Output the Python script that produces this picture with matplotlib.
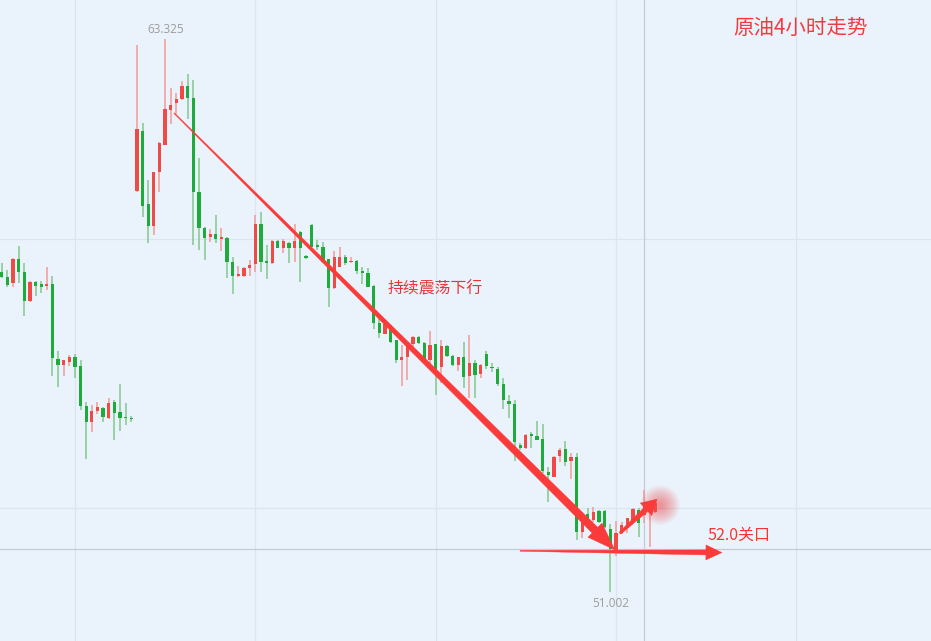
import numpy as np
import matplotlib
matplotlib.use("Agg")
import matplotlib.pyplot as plt
from matplotlib.patches import Polygon, Circle
from matplotlib.transforms import IdentityTransform

plt.rcParams['font.family'] = ['Noto Sans CJK SC', 'DejaVu Sans']

# ---- data (4-hour crude oil candles) ----
opens = [58.14, 58.03, 57.88, 58.41, 58.14, 57.48, 57.91, 57.86, 57.82, 57.86,
         56.19, 56.06, 56.12, 56.23, 56.04, 55.15, 54.78, 55.03, 55.11, 54.87,
         55.24, 55.02, 54.90, 54.88, 59.93, 61.27, 59.64, 59.16, 60.35, 60.97,
         61.74, 61.90, 61.98, 62.28, 62.01, 59.92, 59.12, 58.92, 58.97, 58.87,
         58.89, 58.36, 58.04, 58.04, 58.23, 58.30, 59.20, 58.36, 58.32, 58.82,
         58.67, 58.78, 58.67, 59.03, 58.47, 59.18, 58.72, 58.69, 58.42, 57.77,
         58.25, 58.46, 58.35, 58.37, 58.16, 58.10, 57.82, 56.99, 56.76, 56.95,
         56.61, 56.17, 56.23, 56.53, 56.69, 56.55, 56.17, 56.52, 56.02, 56.49,
         56.26, 56.06, 56.24, 55.81, 56.10, 55.86, 56.31, 56.02, 55.98, 55.63,
         55.26, 55.20, 54.28, 54.20, 54.51, 54.48, 54.40, 53.68, 53.57, 54.03,
         54.18, 53.92, 54.00, 52.34, 52.74, 52.60, 52.81, 52.81, 52.40, 51.86,
         52.31, 52.42, 52.60, 52.83, 52.72, 52.78, 52.79]
highs = [58.34, 58.17, 58.45, 58.71, 58.34, 57.93, 57.93, 57.93, 58.25, 58.04,
         56.37, 56.18, 56.28, 56.30, 56.17, 55.23, 55.17, 55.23, 55.12, 55.32,
         55.28, 55.63, 55.22, 54.92, 63.19, 61.44, 60.18, 60.36, 61.02, 63.325,
         62.22, 62.11, 62.39, 62.54, 62.41, 60.68, 59.13, 59.08, 59.40, 59.12,
         58.90, 58.47, 58.26, 58.24, 58.40, 59.40, 59.46, 58.73, 58.84, 58.84,
         58.86, 58.80, 59.20, 59.04, 58.51, 59.20, 58.84, 58.80, 58.43, 58.60,
         58.69, 58.51, 58.46, 58.40, 58.25, 58.21, 57.83, 57.17, 56.99, 56.96,
         56.62, 56.50, 56.54, 56.70, 56.70, 56.56, 56.82, 56.53, 56.61, 56.50,
         56.28, 56.24, 56.56, 56.73, 56.17, 56.07, 56.37, 56.10, 56.02, 55.77,
         55.39, 55.28, 54.33, 54.53, 54.57, 54.82, 54.74, 53.79, 54.03, 54.22,
         54.36, 54.09, 54.09, 52.64, 52.87, 52.90, 52.83, 52.83, 52.51, 52.59,
         52.56, 52.65, 52.87, 52.87, 53.27, 52.98, 53.00]
lows = [57.99, 57.80, 57.80, 57.89, 57.15, 57.46, 57.60, 57.67, 57.73, 55.82,
        55.57, 55.82, 56.04, 55.77, 55.06, 53.96, 54.57, 54.97, 54.78, 54.85,
        54.39, 54.59, 54.72, 54.79, 59.91, 59.36, 58.77, 58.95, 59.92, 60.96,
        61.42, 61.64, 61.96, 61.55, 58.73, 58.62, 58.40, 58.80, 58.77, 58.60,
        58.00, 57.64, 58.03, 58.03, 58.05, 58.12, 58.12, 57.97, 58.30, 58.66,
        58.55, 58.32, 58.35, 57.91, 58.42, 58.68, 58.62, 58.32, 57.36, 57.76,
        58.24, 58.29, 58.32, 58.09, 57.86, 57.79, 56.85, 56.65, 56.75, 56.55,
        56.11, 55.59, 55.72, 56.47, 56.53, 56.10, 56.06, 55.39, 55.65, 56.24,
        56.03, 55.93, 55.55, 55.32, 55.32, 55.76, 55.98, 55.91, 55.59, 55.08,
        54.88, 53.93, 54.16, 54.19, 54.22, 54.38, 53.66, 53.01, 53.56, 53.89,
        53.81, 53.53, 52.16, 52.20, 52.55, 52.57, 52.54, 52.43, 51.002, 51.80,
        52.29, 52.31, 52.57, 52.23, 52.53, 52.01, 52.77]
closes = [58.01, 57.84, 58.41, 58.12, 57.48, 57.91, 57.82, 57.79, 57.86, 56.21,
          56.06, 56.17, 56.23, 56.01, 55.14, 54.78, 55.04, 55.13, 54.89, 55.22,
          55.00, 54.87, 54.87, 54.85, 61.31, 59.61, 59.16, 60.35, 61.01, 61.76,
          61.85, 61.98, 62.28, 62.01, 59.92, 59.10, 58.88, 58.97, 58.87, 58.89,
          58.35, 58.05, 58.09, 58.23, 58.29, 59.20, 58.35, 58.34, 58.83, 58.67,
          58.82, 58.67, 58.82, 58.67, 58.45, 58.69, 58.69, 58.36, 57.77, 58.47,
          58.47, 58.32, 58.38, 58.16, 58.11, 57.80, 57.00, 56.78, 56.97, 56.58,
          56.18, 56.24, 56.53, 56.69, 56.54, 56.17, 56.50, 55.98, 56.49, 56.26,
          56.06, 56.23, 55.80, 56.11, 55.83, 56.06, 56.04, 55.99, 55.63, 55.28,
          55.19, 54.35, 54.22, 54.51, 54.48, 54.39, 53.70, 53.61, 54.02, 54.16,
          53.90, 54.02, 52.34, 52.60, 52.57, 52.79, 52.57, 52.46, 51.97, 52.31,
          52.49, 52.64, 52.84, 52.53, 52.94, 52.94, 52.98]

grid_x = [13, 45, 77, 109, 141]      # vertical grid, candle index
grid_y = [58.86, 52.87]              # horizontal grid, price
cross_x = 114                        # crosshair candle
cross_y = 51.96                      # crosshair price (52.0 level)

title_text = "原油4小时走势"
trend_text = "持续震荡下行"
level_text = "52.0关口"

# arrow anchors (candle index, price)
trend_arrow = [(30.6, 61.67), (108.8, 51.94)]
rebound_arrow = [(109.7, 52.31), (116.3, 53.07)]
level_arrow = [(92.0, 51.92), (127.8, 51.88)]

# ---- styling ----
BG = '#eaf3fc'
GRID = '#dbe5ef'
CROSS = '#c5cbd5'
UP_BODY = '#f04a46'
UP_WICK = '#f29a98'
DN_BODY = '#1fab3b'
DN_WICK = '#80c98c'
ARROW = '#fb3a3a'

W, H = 931, 641
fig = plt.figure(figsize=(W / 100, H / 100), dpi=100)
fig.patch.set_facecolor(BG)
ax = fig.add_axes([0, 0, 1, 1])
ax.set_facecolor(BG)
for s in ax.spines.values():
    s.set_visible(False)
ax.set_xticks([])
ax.set_yticks([])
ax.set_xlim(-0.30, 164.9)
ax.set_ylim(49.91, 64.19)

for gx in grid_x:
    ax.axvline(gx, color=GRID, lw=0.9, zorder=0)
for gy in grid_y:
    ax.axhline(gy, color=GRID, lw=0.9, zorder=0)
ax.axvline(cross_x, color=CROSS, lw=0.9, zorder=0.5)
ax.axhline(cross_y, color=CROSS, lw=0.9, zorder=0.5)

o = np.array(opens); h = np.array(highs); l = np.array(lows); c = np.array(closes)
x = np.arange(len(o))
up = c >= o
wick_cols = np.where(up, UP_WICK, DN_WICK)
body_cols = np.where(up, UP_BODY, DN_BODY)
ax.vlines(x, l, h, colors=wick_cols, lw=1.1, zorder=2)
bottom = np.minimum(o, c)
height = np.maximum(np.abs(c - o), 0.035)
ax.bar(x, height, bottom=bottom, width=0.58, color=body_cols, linewidth=0, zorder=3)

# value labels at extremes
imax = int(np.argmax(h)); imin = int(np.argmin(l))
ax.annotate(f"{h[imax]:.3f}", (imax, h[imax]), xytext=(0.5, 2.3), textcoords='offset points',
            ha='center', va='bottom', fontsize=8.5, color='#9c9c9c', family=['Open Sans', 'DejaVu Sans'])
ax.annotate(f"{l[imin]:.3f}", (imin, l[imin]), xytext=(0, -3.4), textcoords='offset points',
            ha='center', va='top', fontsize=8.5, color='#9c9c9c', family=['Open Sans', 'DejaVu Sans'])

fig.canvas.draw()
T = ax.transData


def taper_arrow(p0, p1, w0, w1, head_len, head_hw, color, z=6):
    a = np.array(T.transform(p0), float)
    b = np.array(T.transform(p1), float)
    d = b - a
    L = np.hypot(*d)
    u = d / L
    n = np.array([-u[1], u[0]])
    base = b - u * head_len
    pts = [a + n * w0 / 2, base + n * w1 / 2, base + n * head_hw, b,
           base - n * head_hw, base - n * w1 / 2, a - n * w0 / 2]
    poly = Polygon(pts, closed=True, transform=IdentityTransform(), facecolor=color,
                   edgecolor=color, lw=0.3, zorder=z)
    ax.add_artist(poly)
    return b


# soft glow at rebound arrow tip
tip = np.array(T.transform(rebound_arrow[1]))
for r in np.linspace(20, 1, 30):
    ax.add_artist(Circle(tip + np.array([3, -6]), r, transform=IdentityTransform(),
                         facecolor='#f04848', edgecolor='none', alpha=0.022, zorder=5))

taper_arrow(trend_arrow[0], trend_arrow[1], 0.8, 8.0, 28, 10, ARROW)
taper_arrow(rebound_arrow[0], rebound_arrow[1], 2.5, 5.5, 15, 8.5, ARROW)
taper_arrow(level_arrow[0], level_arrow[1], 1.0, 5.0, 16, 7.5, ARROW)

# texts
fig.text(733 / W, 1 - 28 / H, title_text, fontsize=14.8, color='#f53a3f',
         ha='left', va='center')
fig.text(388 / W, 1 - 289 / H, trend_text, fontsize=11.4, color='#e8353a',
         ha='left', va='center')
fig.text(708 / W, 1 - 535 / H, level_text, fontsize=11.5, color='#fa3434',
         ha='left', va='center')

fig.savefig('out.png', dpi=100, facecolor=BG)
